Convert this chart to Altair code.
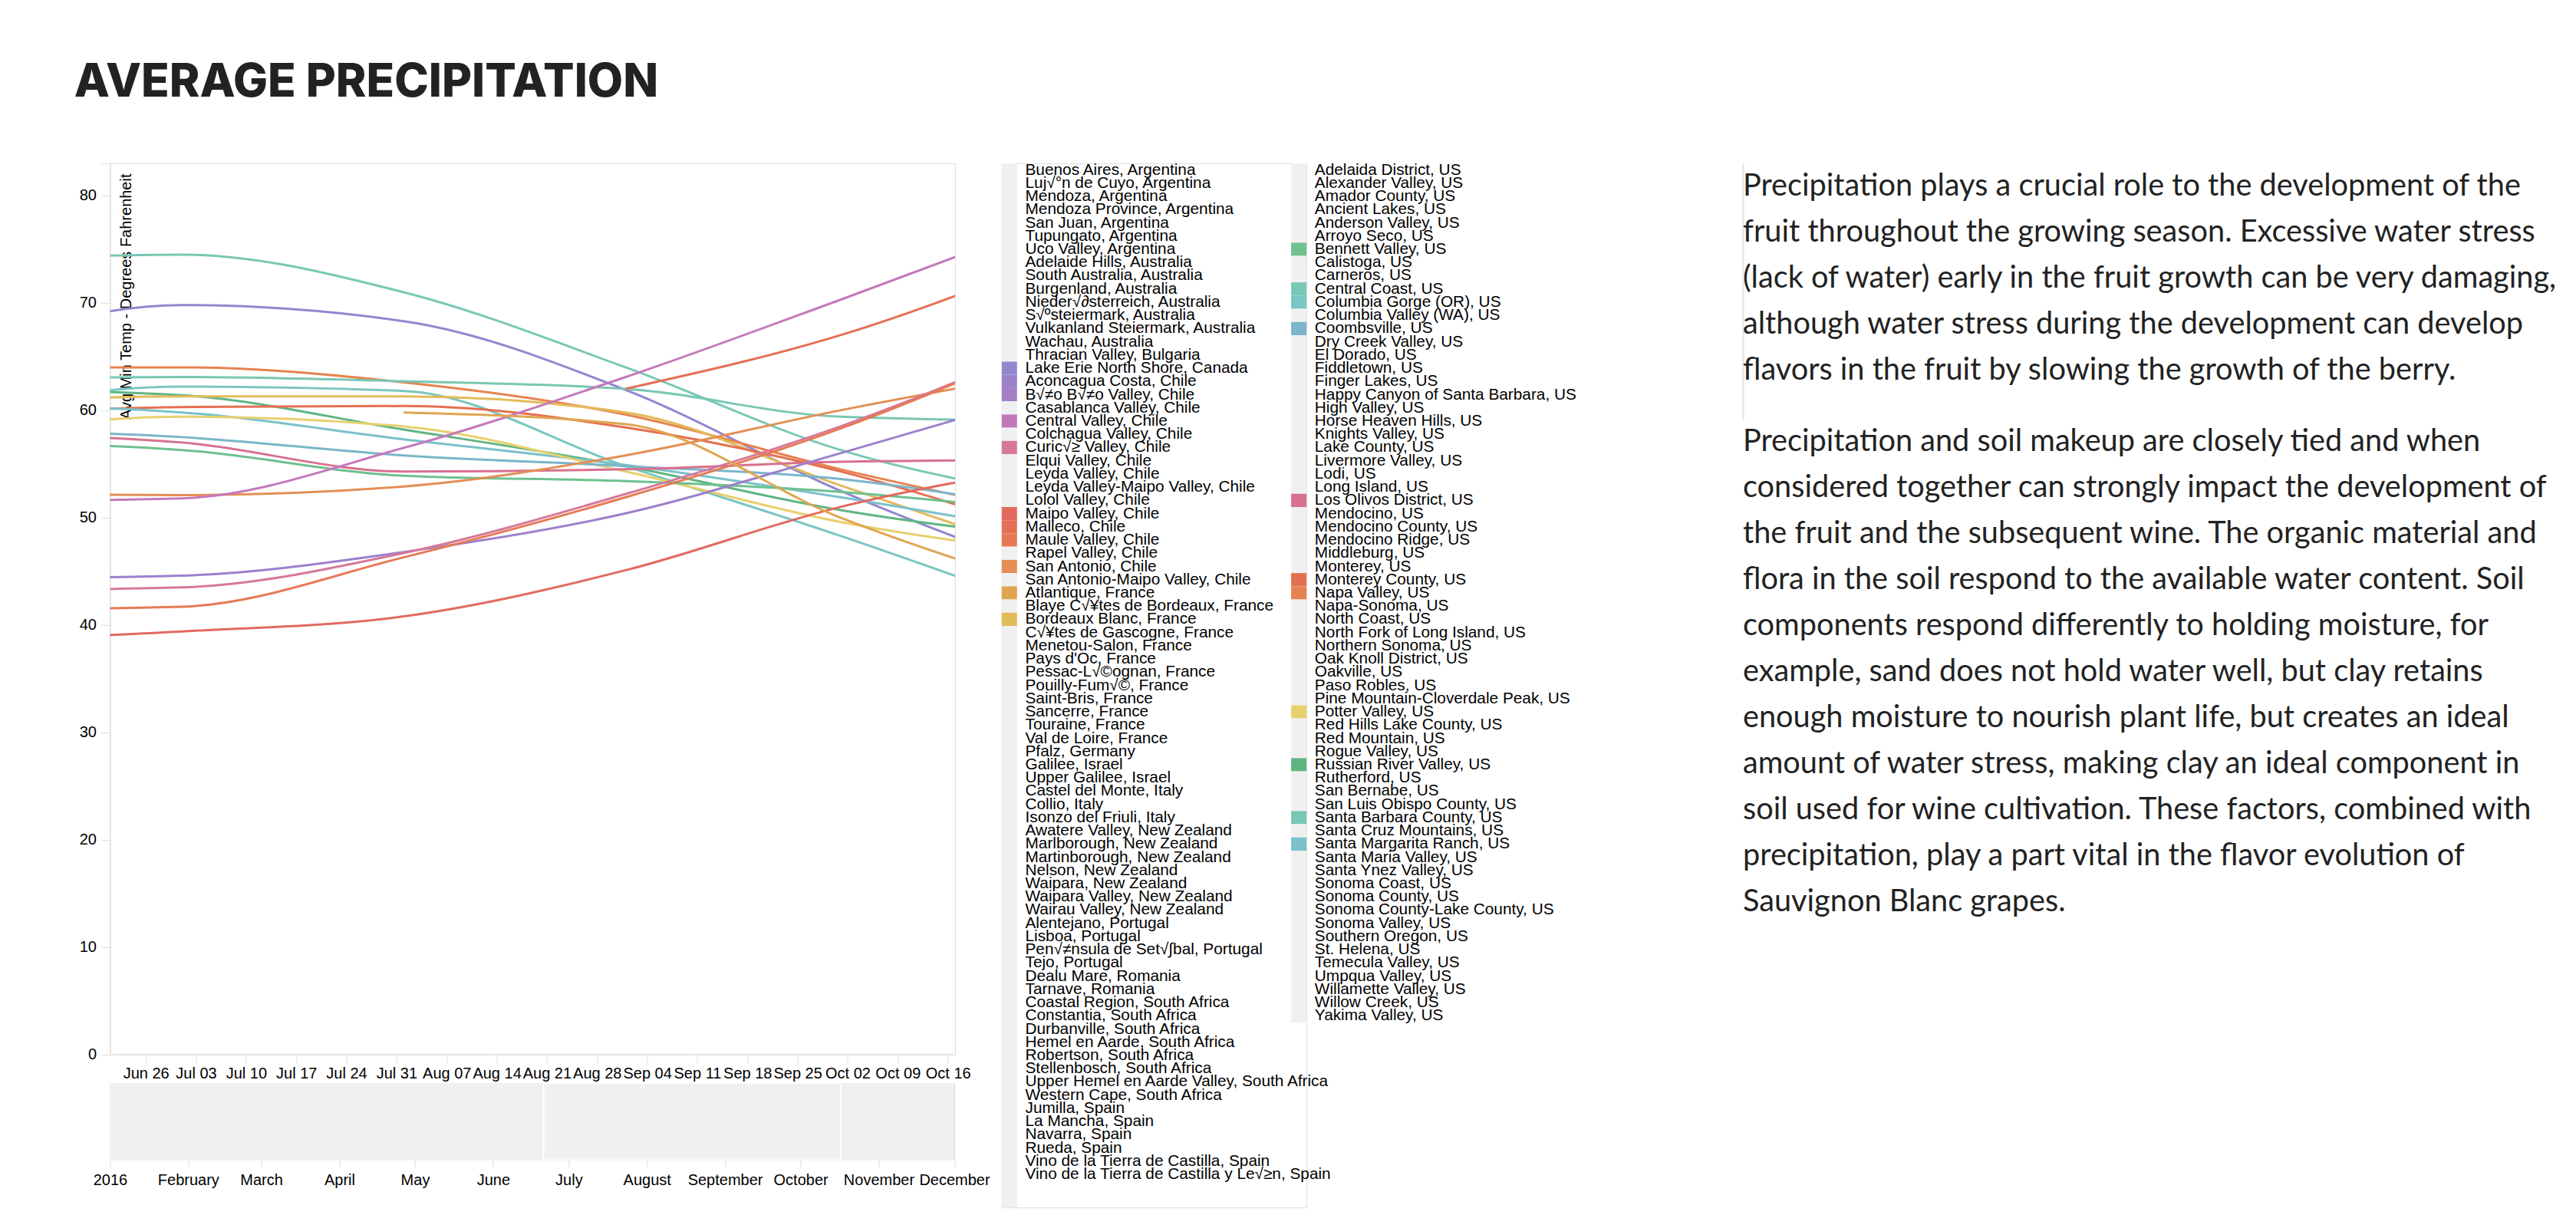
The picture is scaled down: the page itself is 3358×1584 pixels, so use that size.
import altair as alt
import pandas as pd

TITLE = "AVERAGE PRECIPITATION"
Y_TITLE = "Avg Min Temp - Degrees Fahrenheit"

legend_col1 = [
    "Buenos Aires, Argentina", "Luj\u221a\u00b0n de Cuyo, Argentina", "Mendoza, Argentina",
    "Mendoza Province, Argentina", "San Juan, Argentina", "Tupungato, Argentina",
    "Uco Valley, Argentina", "Adelaide Hills, Australia", "South Australia, Australia",
    "Burgenland, Australia", "Nieder\u221a\u2202sterreich, Australia", "S\u221a\u00basteiermark, Australia",
    "Vulkanland Steiermark, Australia", "Wachau, Australia", "Thracian Valley, Bulgaria",
    "Lake Erie North Shore, Canada", "Aconcagua Costa, Chile", "B\u221a\u2260o B\u221a\u2260o Valley, Chile",
    "Casablanca Valley, Chile", "Central Valley, Chile", "Colchagua Valley, Chile",
    "Curic\u221a\u2265 Valley, Chile", "Elqui Valley, Chile", "Leyda Valley, Chile",
    "Leyda Valley-Maipo Valley, Chile", "Lolol Valley, Chile", "Maipo Valley, Chile",
    "Malleco, Chile", "Maule Valley, Chile", "Rapel Valley, Chile", "San Antonio, Chile",
    "San Antonio-Maipo Valley, Chile", "Atlantique, France", "Blaye C\u221a\u00a5tes de Bordeaux, France",
    "Bordeaux Blanc, France", "C\u221a\u00a5tes de Gascogne, France", "Menetou-Salon, France",
    "Pays d'Oc, France", "Pessac-L\u221a\u00a9ognan, France", "Pouilly-Fum\u221a\u00a9, France",
    "Saint-Bris, France", "Sancerre, France", "Touraine, France", "Val de Loire, France",
    "Pfalz, Germany", "Galilee, Israel", "Upper Galilee, Israel", "Castel del Monte, Italy",
    "Collio, Italy", "Isonzo del Friuli, Italy", "Awatere Valley, New Zealand",
    "Marlborough, New Zealand", "Martinborough, New Zealand", "Nelson, New Zealand",
    "Waipara, New Zealand", "Waipara Valley, New Zealand", "Wairau Valley, New Zealand",
    "Alentejano, Portugal", "Lisboa, Portugal", "Pen\u221a\u2260nsula de Set\u221a\u222bbal, Portugal",
    "Tejo, Portugal", "Dealu Mare, Romania", "Tarnave, Romania",
    "Coastal Region, South Africa", "Constantia, South Africa", "Durbanville, South Africa",
    "Hemel en Aarde, South Africa", "Robertson, South Africa", "Stellenbosch, South Africa",
    "Upper Hemel en Aarde Valley, South Africa", "Western Cape, South Africa",
    "Jumilla, Spain", "La Mancha, Spain", "Navarra, Spain", "Rueda, Spain",
    "Vino de la Tierra de Castilla, Spain", "Vino de la Tierra de Castilla y Le\u221a\u2265n, Spain",
    "", " ",
]

legend_col2 = [
    "Adelaida District, US", "Alexander Valley, US", "Amador County, US", "Ancient Lakes, US",
    "Anderson Valley, US", "Arroyo Seco, US", "Bennett Valley, US", "Calistoga, US",
    "Carneros, US", "Central Coast, US", "Columbia Gorge (OR), US", "Columbia Valley (WA), US",
    "Coombsville, US", "Dry Creek Valley, US", "El Dorado, US", "Fiddletown, US",
    "Finger Lakes, US", "Happy Canyon of Santa Barbara, US", "High Valley, US",
    "Horse Heaven Hills, US", "Knights Valley, US", "Lake County, US", "Livermore Valley, US",
    "Lodi, US", "Long Island, US", "Los Olivos District, US", "Mendocino, US",
    "Mendocino County, US", "Mendocino Ridge, US", "Middleburg, US", "Monterey, US",
    "Monterey County, US", "Napa Valley, US", "Napa-Sonoma, US", "North Coast, US",
    "North Fork of Long Island, US", "Northern Sonoma, US", "Oak Knoll District, US",
    "Oakville, US", "Paso Robles, US", "Pine Mountain-Cloverdale Peak, US", "Potter Valley, US",
    "Red Hills Lake County, US", "Red Mountain, US", "Rogue Valley, US",
    "Russian River Valley, US", "Rutherford, US", "San Bernabe, US",
    "San Luis Obispo County, US", "Santa Barbara County, US", "Santa Cruz Mountains, US",
    "Santa Margarita Ranch, US", "Santa Maria Valley, US", "Santa Ynez Valley, US",
    "Sonoma Coast, US", "Sonoma County, US", "Sonoma County-Lake County, US",
    "Sonoma Valley, US", "Southern Oregon, US", "St. Helena, US", "Temecula Valley, US",
    "Umpqua Valley, US", "Willamette Valley, US", "Willow Creek, US", "Yakima Valley, US",
]

UNSELECTED = "#f0f0f0"
highlight_colors = {
    "Lake Erie North Shore, Canada": "#9287cf",
    "Aconcagua Costa, Chile": "#9d80cc",
    "B\u221a\u2260o B\u221a\u2260o Valley, Chile": "#a67fc5",
    "Central Valley, Chile": "#c478bc",
    "Curic\u221a\u2265 Valley, Chile": "#d67899",
    "Maipo Valley, Chile": "#e26a5f",
    "Malleco, Chile": "#e56f55",
    "Maule Valley, Chile": "#e77a55",
    "San Antonio, Chile": "#e38f55",
    "Atlantique, France": "#e0a552",
    "Bordeaux Blanc, France": "#e2bb5a",
    "Bennett Valley, US": "#6fc08f",
    "Central Coast, US": "#79c8b5",
    "Columbia Gorge (OR), US": "#7ac6c1",
    "Coombsville, US": "#7bb5ca",
    "Los Olivos District, US": "#d6718f",
    "Monterey County, US": "#e46f51",
    "Napa Valley, US": "#e5834f",
    "Potter Valley, US": "#e8d06e",
    "Russian River Valley, US": "#5fb582",
    "Santa Barbara County, US": "#79c7b4",
    "Santa Margarita Ranch, US": "#7ac1cb",
}

# monthly average minimum temperature (deg F)
months = ["2016-06-01T00:00:00", "2016-07-01T00:00:00", "2016-08-01T00:00:00",
          "2016-09-01T00:00:00", "2016-10-01T00:00:00", "2016-11-01T00:00:00"]
series_values = {
    "Central Coast, US":             [74.0, 74.5, 71.0, 64.0, 56.3, 51.8],
    "Lake Erie North Shore, Canada": [66.0, 69.8, 68.3, 61.9, 52.5, 44.5],
    "Napa Valley, US":               [64.0, 64.0, 62.6, 59.6, 54.5, 50.0],
    "Santa Barbara County, US":      [63.0, 63.1, 62.7, 62.0, 59.4, 59.0],
    "Russian River Valley, US":      [62.0, 61.4, 58.2, 54.8, 50.7, 48.0],
    "Columbia Gorge (OR), US":       [60.0, 62.2, 61.8, 54.8, 48.3, 41.0],
    "Bordeaux Blanc, France":        [60.6, 61.3, 61.3, 59.8, 53.0, 46.0],
    "Monterey County, US":           [59.6, 60.3, 60.4, 58.4, 54.3, 48.0],
    "Santa Margarita Ranch, US":     [60.5, 59.8, 57.3, 54.9, 51.9, 48.4],
    "Potter Valley, US":             [57.8, 59.4, 58.5, 54.3, 49.6, 46.6],
    "Coombsville, US":               [58.2, 57.5, 55.8, 54.8, 53.6, 50.5],
    "Los Olivos District, US":       [57.8, 57.0, 54.3, 54.5, 55.2, 55.4],
    "Bennett Valley, US":            [57.0, 56.3, 53.9, 53.4, 52.4, 50.4],
    "San Antonio, Chile":            [52.2, 52.1, 52.9, 55.8, 60.0, 63.8],
    "Central Valley, Chile":         [51.5, 51.8, 56.5, 63.1, 70.3, 78.0],
    "Aconcagua Costa, Chile":        [44.3, 44.6, 46.8, 50.4, 56.0, 62.0],
    "Curic\u221a\u2265 Valley, Chile":     [43.2, 43.5, 46.7, 52.2, 58.5, 66.8],
    "Maule Valley, Chile":           [41.4, 41.7, 46.3, 51.9, 58.3, 66.8],
    "Maipo Valley, Chile":           [38.5, 39.4, 40.8, 45.1, 51.0, 55.0],
    "Atlantique, France":            [None, None, 59.8, 58.7, 50.0, 43.0],
    "Malleco, Chile":                [None, None, None, 62.0, 67.0, 74.5],
}

overview_months = ["2016-%02d-01T00:00:00" % m for m in range(1, 13)]
brush_start = alt.DateTime(year=2016, month=6, date=21)
brush_end = alt.DateTime(year=2016, month=10, date=17)
y_domain = [0, 83]
# labelled ticks plus an unlabelled tick at the top of the domain
y_ticks = [0, 10, 20, 30, 40, 50, 60, 70, 80, 83]

para1 = [
    "Precipitation plays a crucial role to the development of the",
    "fruit throughout the growing season. Excessive water stress",
    "(lack of water) early in the fruit growth can be very damaging,",
    "although water stress during the development can develop",
    "flavors in the fruit by slowing the growth of the berry.",
]
para2 = [
    "Precipitation and soil makeup are closely tied and when",
    "considered together can strongly impact the development of",
    "the fruit and the subsequent wine. The organic material and",
    "flora in the soil respond to the available water content. Soil",
    "components respond differently to holding moisture, for",
    "example, sand does not hold water well, but clay retains",
    "enough moisture to nourish plant life, but creates an ideal",
    "amount of water stress, making clay an ideal component in",
    "soil used for wine cultivation. These factors, combined with",
    "precipitation, play a part vital in the flavor evolution of",
    "Sauvignon Blanc grapes.",
]

AXIS_FONT = "Liberation Sans"
GREY_LINE = "#dddddd"

# ---------------- data tables ----------------
line_rows = []
for name, vals in series_values.items():
    for d, v in zip(months, vals):
        if v is not None:
            line_rows.append({"name": name, "date": d, "value": v})
line_df = pd.DataFrame(line_rows)
line_names = list(series_values.keys())
line_colors = [highlight_colors[n] for n in line_names]

ov_df = pd.DataFrame({"date": overview_months})

leg_rows = []
for c, names in enumerate([legend_col1, legend_col2]):
    for r, n in enumerate(names):
        leg_rows.append({"col": c, "row": r, "name": n})
leg_df = pd.DataFrame(leg_rows)
leg_domain = legend_col1 + legend_col2
leg_range = [highlight_colors.get(n, UNSELECTED) for n in leg_domain]

para_df = pd.DataFrame({"para": ["p1", "p2"], "text": ["\n".join(para1), "\n".join(para2)]})

# ---------------- charts ----------------
brush = alt.selection_interval(
    encodings=["x"], value={"x": [brush_start, brush_end]},
    mark=alt.BrushConfig(fill="#8a98b0", fillOpacity=0.09, stroke="white", strokeWidth=2),
)

main = alt.Chart(line_df).mark_line(interpolate="monotone", strokeWidth=3, clip=True).encode(
    x=alt.X("date:T", scale=alt.Scale(domain=brush),
            axis=alt.Axis(title=None, format="%b %d", tickCount={"interval": "week", "step": 1},
                          labelFontSize=20, labelFont=AXIS_FONT, labelColor="#000",
                          tickSize=11, labelPadding=4, domainColor=GREY_LINE, tickColor=GREY_LINE,
                          labelOverlap=False, labelFlush=False, grid=False)),
    y=alt.Y("value:Q", scale=alt.Scale(domain=y_domain, nice=False),
            axis=alt.Axis(title=Y_TITLE, values=y_ticks,
                          labelExpr="datum.value % 10 === 0 ? datum.label : ''",
                          labelFontSize=20, labelFont=AXIS_FONT,
                          labelColor="#000", tickSize=12, labelPadding=6, domainColor=GREY_LINE,
                          tickColor=GREY_LINE, grid=False, titleFontSize=20, titleFont=AXIS_FONT,
                          titleFontWeight="normal", titleColor="#000", titleAngle=270,
                          titleAlign="right", titleBaseline="middle", titleX=21, titleY=13)),
    color=alt.Color("name:N", scale=alt.Scale(domain=line_names, range=line_colors), legend=None),
).properties(width=1101.5, height=1161.6, view=alt.ViewBackground(stroke=GREY_LINE))

overview = alt.Chart(ov_df).mark_area(color=UNSELECTED).encode(
    x=alt.X("date:T",
            axis=alt.Axis(title=None, tickCount={"interval": "month", "step": 1},
                          labelFontSize=20, labelFont=AXIS_FONT, labelColor="#000",
                          tickSize=11, labelPadding=6.5, domain=False, tickColor=GREY_LINE,
                          labelOverlap=False, labelFlush=False, grid=False)),
    y=alt.Y(datum=1, scale=alt.Scale(domain=[0, 1]), axis=None),
).add_params(brush).properties(width=1100.5, height=99.4)

left_block = alt.vconcat(main, overview, spacing=0).resolve_scale(color="independent")

leg_base = alt.Chart(leg_df).encode(
    x=alt.X("col:O", axis=None, scale=alt.Scale(paddingInner=0.947, paddingOuter=0, align=0)),
    y=alt.Y("row:O", axis=None, scale=alt.Scale(paddingInner=0, paddingOuter=0)),
)
leg_rects = leg_base.mark_rect().encode(
    color=alt.Color("name:N", scale=alt.Scale(domain=leg_domain, range=leg_range), legend=None)
)
leg_text = leg_base.mark_text(align="left", baseline="middle", dx=20.7, fontSize=20.8,
                              font=AXIS_FONT, color="#000").encode(text="name:N")
legend = alt.layer(leg_rects, leg_text).properties(width=397.3, height=alt.Step(17.23))

text_chart = alt.Chart(para_df).mark_text(
    align="left", baseline="line-top", lineBreak="\n", lineHeight=60,
    font="Lato", fontSize=39.7, color="#222222",
).encode(
    y=alt.Y("para:N", axis=None, scale=alt.Scale(type="point", padding=0)),
    text="text:N",
).properties(width=1, height=333)

chart = alt.hconcat(
    alt.hconcat(left_block, legend, spacing=13.3).resolve_scale(color="independent"),
    text_chart,
    spacing=215,
).resolve_scale(color="independent").properties(
    title=alt.TitleParams(TITLE, anchor="start", font="Inter", fontSize=60, fontWeight=800,
                          color="#222222", offset=23.7, dx=-6, baseline="alphabetic"),
    padding={"left": 88.5, "top": 70, "right": 5, "bottom": 5},
).configure_view(stroke=None).configure(background="white")

chart.save("out.html", embed_options={"renderer": "svg", "actions": False})
